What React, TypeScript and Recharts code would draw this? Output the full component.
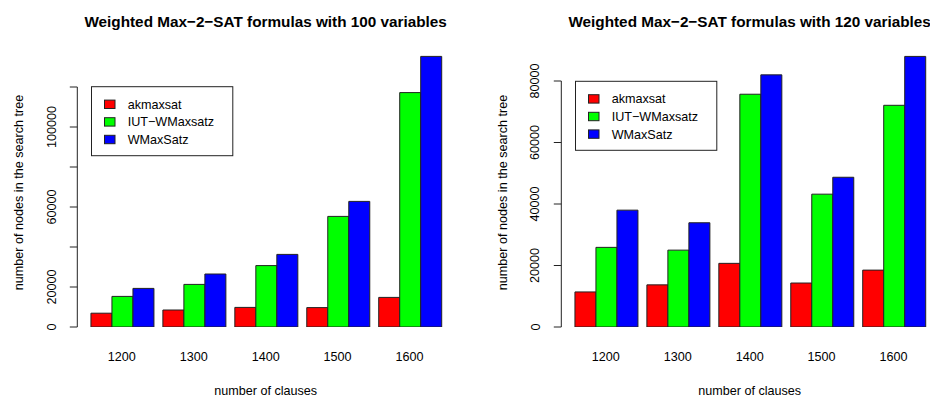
import React from 'react';
import { BarChart, Bar, XAxis, YAxis, Customized } from 'recharts';

const categories = ['1200', '1300', '1400', '1500', '1600'];
const seriesNames = ['akmaxsat', 'IUT\u2212WMaxsatz', 'WMaxSatz'];
const seriesColors = ['#ff0000', '#00ff00', '#0000ff'];

// 100 variables
const akmaxsat100 = [6900, 8500, 9800, 9700, 14800];
const iut100 = [15300, 21300, 30700, 55300, 117200];
const wmax100 = [19300, 26500, 36300, 62800, 135300];
const ticks100 = [0, 20000, 40000, 60000, 80000, 100000, 120000];
const labeled100 = [0, 20000, 60000, 100000];

// 120 variables
const akmaxsat120 = [11400, 13700, 20700, 14300, 18500];
const iut120 = [25900, 25000, 75700, 43200, 72100];
const wmax120 = [38000, 33900, 82000, 48700, 88000];
const ticks120 = [0, 20000, 40000, 60000, 80000];
const labeled120 = [0, 20000, 40000, 60000, 80000];

const FONT = '"Liberation Sans", Arial, Helvetica, sans-serif';
const FS = 12.6;

const CHART_W = 470;
const CHART_H = 396;
const PLOT_LEFT = 77.3;
const PLOT_RIGHT = 454;
const PLOT_TOP = 47;
const PLOT_BOTTOM = 327;
const PLOT_H = PLOT_BOTTOM - PLOT_TOP;
const Y_AXIS_W = 60;

function buildRows(a: number[], b: number[], c: number[]) {
  return categories.map((cat, i) => ({ cat, s0: a[i], s1: b[i], s2: c[i] }));
}

type PanelProps = {
  title: string;
  a: number[];
  b: number[];
  c: number[];
  domainMax: number;
  ticks: number[];
  labeled: number[];
  legendTop: number;
};

function Panel({ title, a, b, c, domainMax, ticks, labeled, legendTop }: PanelProps) {
  const rows = buildRows(a, b, c);
  const axisTop = ticks[ticks.length - 1];
  const axisLen = (axisTop / domainMax) * PLOT_H;
  const cx = (PLOT_LEFT + PLOT_RIGHT) / 2;
  const cy = 192.5;

  const YTick = (props: any) => {
    const { y, payload, index } = props;
    const v = payload.value;
    return (
      <g>
        {index === 0 && (
          <line x1={PLOT_LEFT} x2={PLOT_LEFT} y1={y} y2={y - axisLen} stroke="#222" strokeWidth={1} />
        )}
        <line x1={PLOT_LEFT - 7.5} x2={PLOT_LEFT} y1={y} y2={y} stroke="#222" strokeWidth={1} />
        {labeled.indexOf(v) >= 0 && (
          <text
            x={55.5}
            y={y}
            transform={`rotate(-90 55.5 ${y})`}
            textAnchor="middle"
            fontSize={FS}
            fontFamily={FONT}
            fill="#000"
          >
            {v}
          </text>
        )}
      </g>
    );
  };

  const XTick = (props: any) => {
    const { x, payload } = props;
    return (
      <text x={x} y={361} textAnchor="middle" fontSize={FS} fontFamily={FONT} fill="#000">
        {payload.value}
      </text>
    );
  };

  const Extras = () => {
    const bx = 91.5;
    const bw = 141.3;
    const bh = 69;
    const rowOff = [17.6, 35.2, 52.8];
    return (
      <g>
        <text x={cx} y={27} textAnchor="middle" fontSize={15.3} fontWeight="bold" fontFamily={FONT} fill="#000">
          {title}
        </text>
        <text x={cx} y={394.5} textAnchor="middle" fontSize={FS} fontFamily={FONT} fill="#000">
          number of clauses
        </text>
        <text
          x={23}
          y={cy}
          transform={`rotate(-90 23 ${cy})`}
          textAnchor="middle"
          fontSize={FS}
          fontFamily={FONT}
          fill="#000"
        >
          number of nodes in the search tree
        </text>
        <rect x={bx} y={legendTop} width={bw} height={bh} fill="#fff" stroke="#222" strokeWidth={1} />
        {seriesNames.map((name, i) => (
          <g key={name}>
            <rect
              x={bx + 13}
              y={legendTop + rowOff[i] - 4.2}
              width={10.5}
              height={8.4}
              fill={seriesColors[i]}
              stroke="#222"
              strokeWidth={1}
            />
            <text
              x={bx + 36.2}
              y={legendTop + rowOff[i] + 4.4}
              fontSize={FS}
              fontFamily={FONT}
              fill="#000"
            >
              {name}
            </text>
          </g>
        ))}
      </g>
    );
  };

  return (
    <BarChart
      width={CHART_W}
      height={CHART_H}
      data={rows}
      margin={{ top: PLOT_TOP, right: CHART_W - PLOT_RIGHT, left: PLOT_LEFT - Y_AXIS_W, bottom: 0 }}
      barCategoryGap={5.15}
      barGap={0}
    >
      <XAxis
        dataKey="cat"
        height={CHART_H - PLOT_BOTTOM}
        padding={{ left: 8.5, right: 8.5 }}
        axisLine={false}
        tickLine={false}
        tick={<XTick />}
        interval={0}
      />
      <YAxis
        width={Y_AXIS_W}
        domain={[0, domainMax]}
        ticks={ticks}
        interval={0}
        axisLine={false}
        tickLine={false}
        tick={<YTick />}
        allowDataOverflow
      />
      <Bar dataKey="s0" name={seriesNames[0]} fill={seriesColors[0]} stroke="#222" strokeWidth={1} isAnimationActive={false} />
      <Bar dataKey="s1" name={seriesNames[1]} fill={seriesColors[1]} stroke="#222" strokeWidth={1} isAnimationActive={false} />
      <Bar dataKey="s2" name={seriesNames[2]} fill={seriesColors[2]} stroke="#222" strokeWidth={1} isAnimationActive={false} />
      <Customized component={Extras} />
    </BarChart>
  );
}

export default function App() {
  return (
    <div
      style={{
        position: 'absolute',
        left: 0,
        top: 0,
        width: 930,
        height: 396,
        overflow: 'hidden',
        background: '#fff',
        fontFamily: FONT,
      }}
    >
      <div style={{ position: 'absolute', left: 0, top: 0 }}>
        <Panel
          title={'Weighted Max\u22122\u2212SAT formulas with 100 variables'}
          a={akmaxsat100}
          b={iut100}
          c={wmax100}
          domainMax={140000}
          ticks={ticks100}
          labeled={labeled100}
          legendTop={86.7}
        />
      </div>
      <div style={{ position: 'absolute', left: 483.7, top: 0 }}>
        <Panel
          title={'Weighted Max\u22122\u2212SAT formulas with 120 variables'}
          a={akmaxsat120}
          b={iut120}
          c={wmax120}
          domainMax={91060}
          ticks={ticks120}
          labeled={labeled120}
          legendTop={81.3}
        />
      </div>
    </div>
  );
}
